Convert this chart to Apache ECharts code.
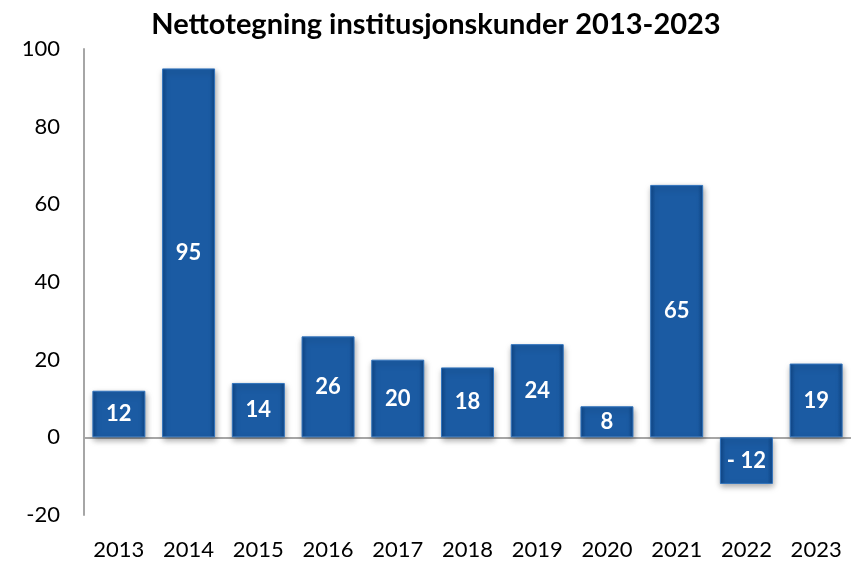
<!DOCTYPE html>
<html>
<head>
<meta charset="utf-8">
<script src="https://cdn.jsdelivr.net/npm/echarts@6/dist/echarts.min.js"></script>
<style>
  html, body { margin: 0; padding: 0; background: #fff; }
  #chart { width: 851px; height: 562px; }
</style>
</head>
<body>
<div id="chart"></div>
<script>
const years = ['2013', '2014', '2015', '2016', '2017', '2018', '2019', '2020', '2021', '2022', '2023']
const values = [12, 95, 14, 26, 20, 18, 24, 8, 65, -12, 19]
const yTicks = { min: -20, max: 100, step: 20 }

const font = 'Lato, "Open Sans", sans-serif'
const myChart = echarts.init(document.getElementById('chart'))

// darker sides, flat middle: rough stand-in for the bevelled bars
const barColor = new echarts.graphic.LinearGradient(0, 0, 1, 0, [
  { offset: 0, color: '#0e4687' },
  { offset: 0.1, color: '#1b5ba3' },
  { offset: 0.9, color: '#1b5ba3' },
  { offset: 1, color: '#0e4687' }
])

const options = {
  animation: false,
  title: {
    text: 'Nettotegning institusjonskunder 2013-2023',
    left: 431,
    textAlign: 'center',
    top: 5,
    textStyle: { fontFamily: font, fontWeight: 'bold', fontSize: 29, color: '#000' }
  },
  grid: { left: 84, right: -4, top: 49, bottom: 47, containLabel: false },
  xAxis: [
    {
      type: 'category',
      data: years,
      position: 'bottom',
      axisLine: { show: false, onZero: false },
      axisTick: { show: false },
      axisLabel: { color: '#000', fontFamily: font, fontSize: 22, margin: 24 }
    },
    {
      type: 'category',
      data: years,
      position: 'bottom',
      axisLine: { show: true, onZero: true, lineStyle: { color: '#a6a6a6', width: 2 } },
      axisTick: { show: false },
      axisLabel: { show: false }
    }
  ],
  yAxis: {
    type: 'value',
    min: yTicks.min,
    max: yTicks.max,
    interval: yTicks.step,
    axisLine: { show: true, lineStyle: { color: '#a6a6a6', width: 2 } },
    axisTick: { show: false },
    splitLine: { show: false },
    axisLabel: { color: '#000', fontFamily: font, fontSize: 22, margin: 24 }
  },
  series: [
    {
      type: 'bar',
      data: values,
      barCategoryGap: '24%',
      itemStyle: {
        color: barColor,
        borderColor: '#3274bd',
        borderWidth: 1,
        shadowColor: 'rgba(0, 0, 0, 0.35)',
        shadowBlur: 6,
        shadowOffsetX: 1,
        shadowOffsetY: 3
      },
      label: {
        show: true,
        position: 'inside',
        color: '#fff',
        fontFamily: font,
        fontWeight: 'bold',
        fontSize: 22,
        formatter: p => p.value < 0 ? '- ' + Math.abs(p.value) : String(p.value)
      }
    }
  ]
}

myChart.setOption(options)
</script>
</body>
</html>
